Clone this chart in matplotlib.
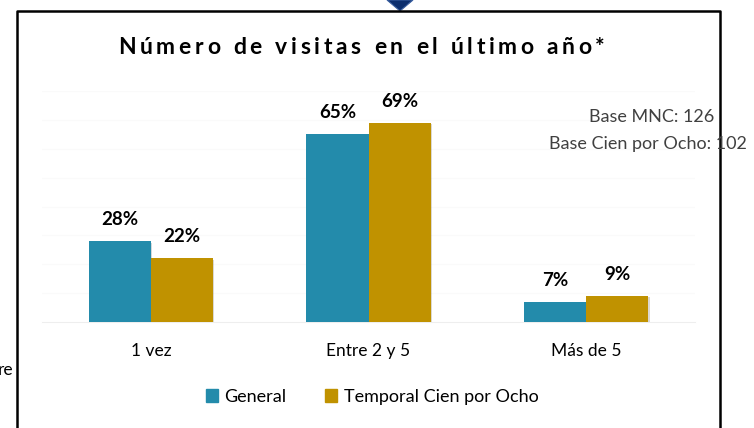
import matplotlib

matplotlib.use("Agg")
import matplotlib.pyplot as plt
import numpy as np
from matplotlib import patheffects
from matplotlib.lines import Line2D
from matplotlib.patches import Patch, Polygon

plt.rcParams["font.family"] = ["Lato", "DejaVu Sans"]

# datos
categorias = ["1 vez", "Entre 2 y 5", "Más de 5"]
general = [28, 65, 7]
temporal = [22, 69, 9]
series = ["General", "Temporal Cien por Ocho"]
titulo = "Número de visitas en el último año*"
bases = ["Base MNC: 126", "Base Cien por Ocho: 102"]

COL_GEN = "#238BAB"
COL_TMP = "#C09200"

W, H = 754, 428
fig = plt.figure(figsize=(W / 100, H / 100), dpi=100)


def fx(px):
    return px / W


def fy(py):
    return 1 - py / H


# ejes: x 42..695, y 91..322 (pixeles)
ax = fig.add_axes([fx(42), fy(322), fx(695) - fx(42), fy(91) - fy(322)])

x = np.arange(len(categorias))
bw = 0.285
sombra = [patheffects.SimplePatchShadow(offset=(1, -1), alpha=0.18), patheffects.Normal()]
b1 = ax.bar(x - bw / 2, general, bw, color=COL_GEN, zorder=3)
b2 = ax.bar(x + bw / 2, temporal, bw, color=COL_TMP, zorder=3)
for b in list(b1) + list(b2):
    b.set_path_effects(sombra)

for bars, vals in ((b1, general), (b2, temporal)):
    for b, v in zip(bars, vals):
        ax.annotate(
            f"{v}%",
            (b.get_x() + b.get_width() / 2, v),
            xytext=(0, 15.5),
            textcoords="offset points",
            ha="center",
            va="center",
            fontsize=13.5,
            fontweight="bold",
            color="black",
        )

ax.set_xlim(-0.5, 2.5)
ax.set_ylim(0, 80)
ax.set_yticks(np.arange(10, 81, 10))
ax.yaxis.grid(True, color="#FAFAFA", linewidth=0.8, zorder=0)
ax.set_yticklabels([])
ax.tick_params(axis="y", length=0)
ax.set_xticks(x)
ax.set_xticklabels(categorias, fontsize=12.5)
ax.tick_params(axis="x", length=0, pad=15)
for s in ("top", "right", "left"):
    ax.spines[s].set_visible(False)
ax.spines["bottom"].set_color("#EEEEEE")
ax.spines["bottom"].set_linewidth(0.8)

# titulo con espaciado entre letras
r = fig.canvas.get_renderer()
kw = dict(fontsize=16.5, fontweight="bold", color="black", va="baseline")
anchos = []
for ch in titulo:
    t = fig.text(0, 0, ch if ch != " " else "n", **kw)
    e = t.get_window_extent(r)
    anchos.append(e.width if ch != " " else e.width * 0.45)
    t.remove()
extra = (487 - sum(anchos)) / (len(titulo) - 1)
cx = 118
for ch, a in zip(titulo, anchos):
    if ch != " ":
        fig.text(fx(cx), fy(54), ch, ha="left", **kw)
    cx += a + extra

# bases
fig.text(fx(589), fy(117), bases[0], fontsize=13, color="#404040", va="center")
fig.text(fx(549), fy(144), bases[1], fontsize=13, color="#404040", va="center")

# texto cortado a la izquierda
fig.text(fx(13), fy(370), "re", fontsize=12.5, ha="right", va="center")

# leyenda
handles = [Patch(color=COL_GEN), Patch(color=COL_TMP)]
fig.legend(
    handles,
    series,
    loc="center",
    bbox_to_anchor=(fx(372), fy(397)),
    ncol=2,
    frameon=False,
    fontsize=13,
    handlelength=0.7,
    handleheight=0.7,
    handletextpad=0.35,
    columnspacing=2.1,
)

# marco
lw = 1.8
fig.add_artist(Line2D([fx(17), fx(17), fx(720), fx(720)], [0, fy(11), fy(11), 0],
                      color="black", linewidth=lw, transform=fig.transFigure))
fig.add_artist(Polygon([[fx(387), fy(0)], [fx(413), fy(0)], [fx(400), fy(11)]],
                       closed=True, facecolor="#0C2F6E", edgecolor="#3A5FA0",
                       linewidth=0.8, transform=fig.transFigure))

fig.savefig("out.png", dpi=100)
